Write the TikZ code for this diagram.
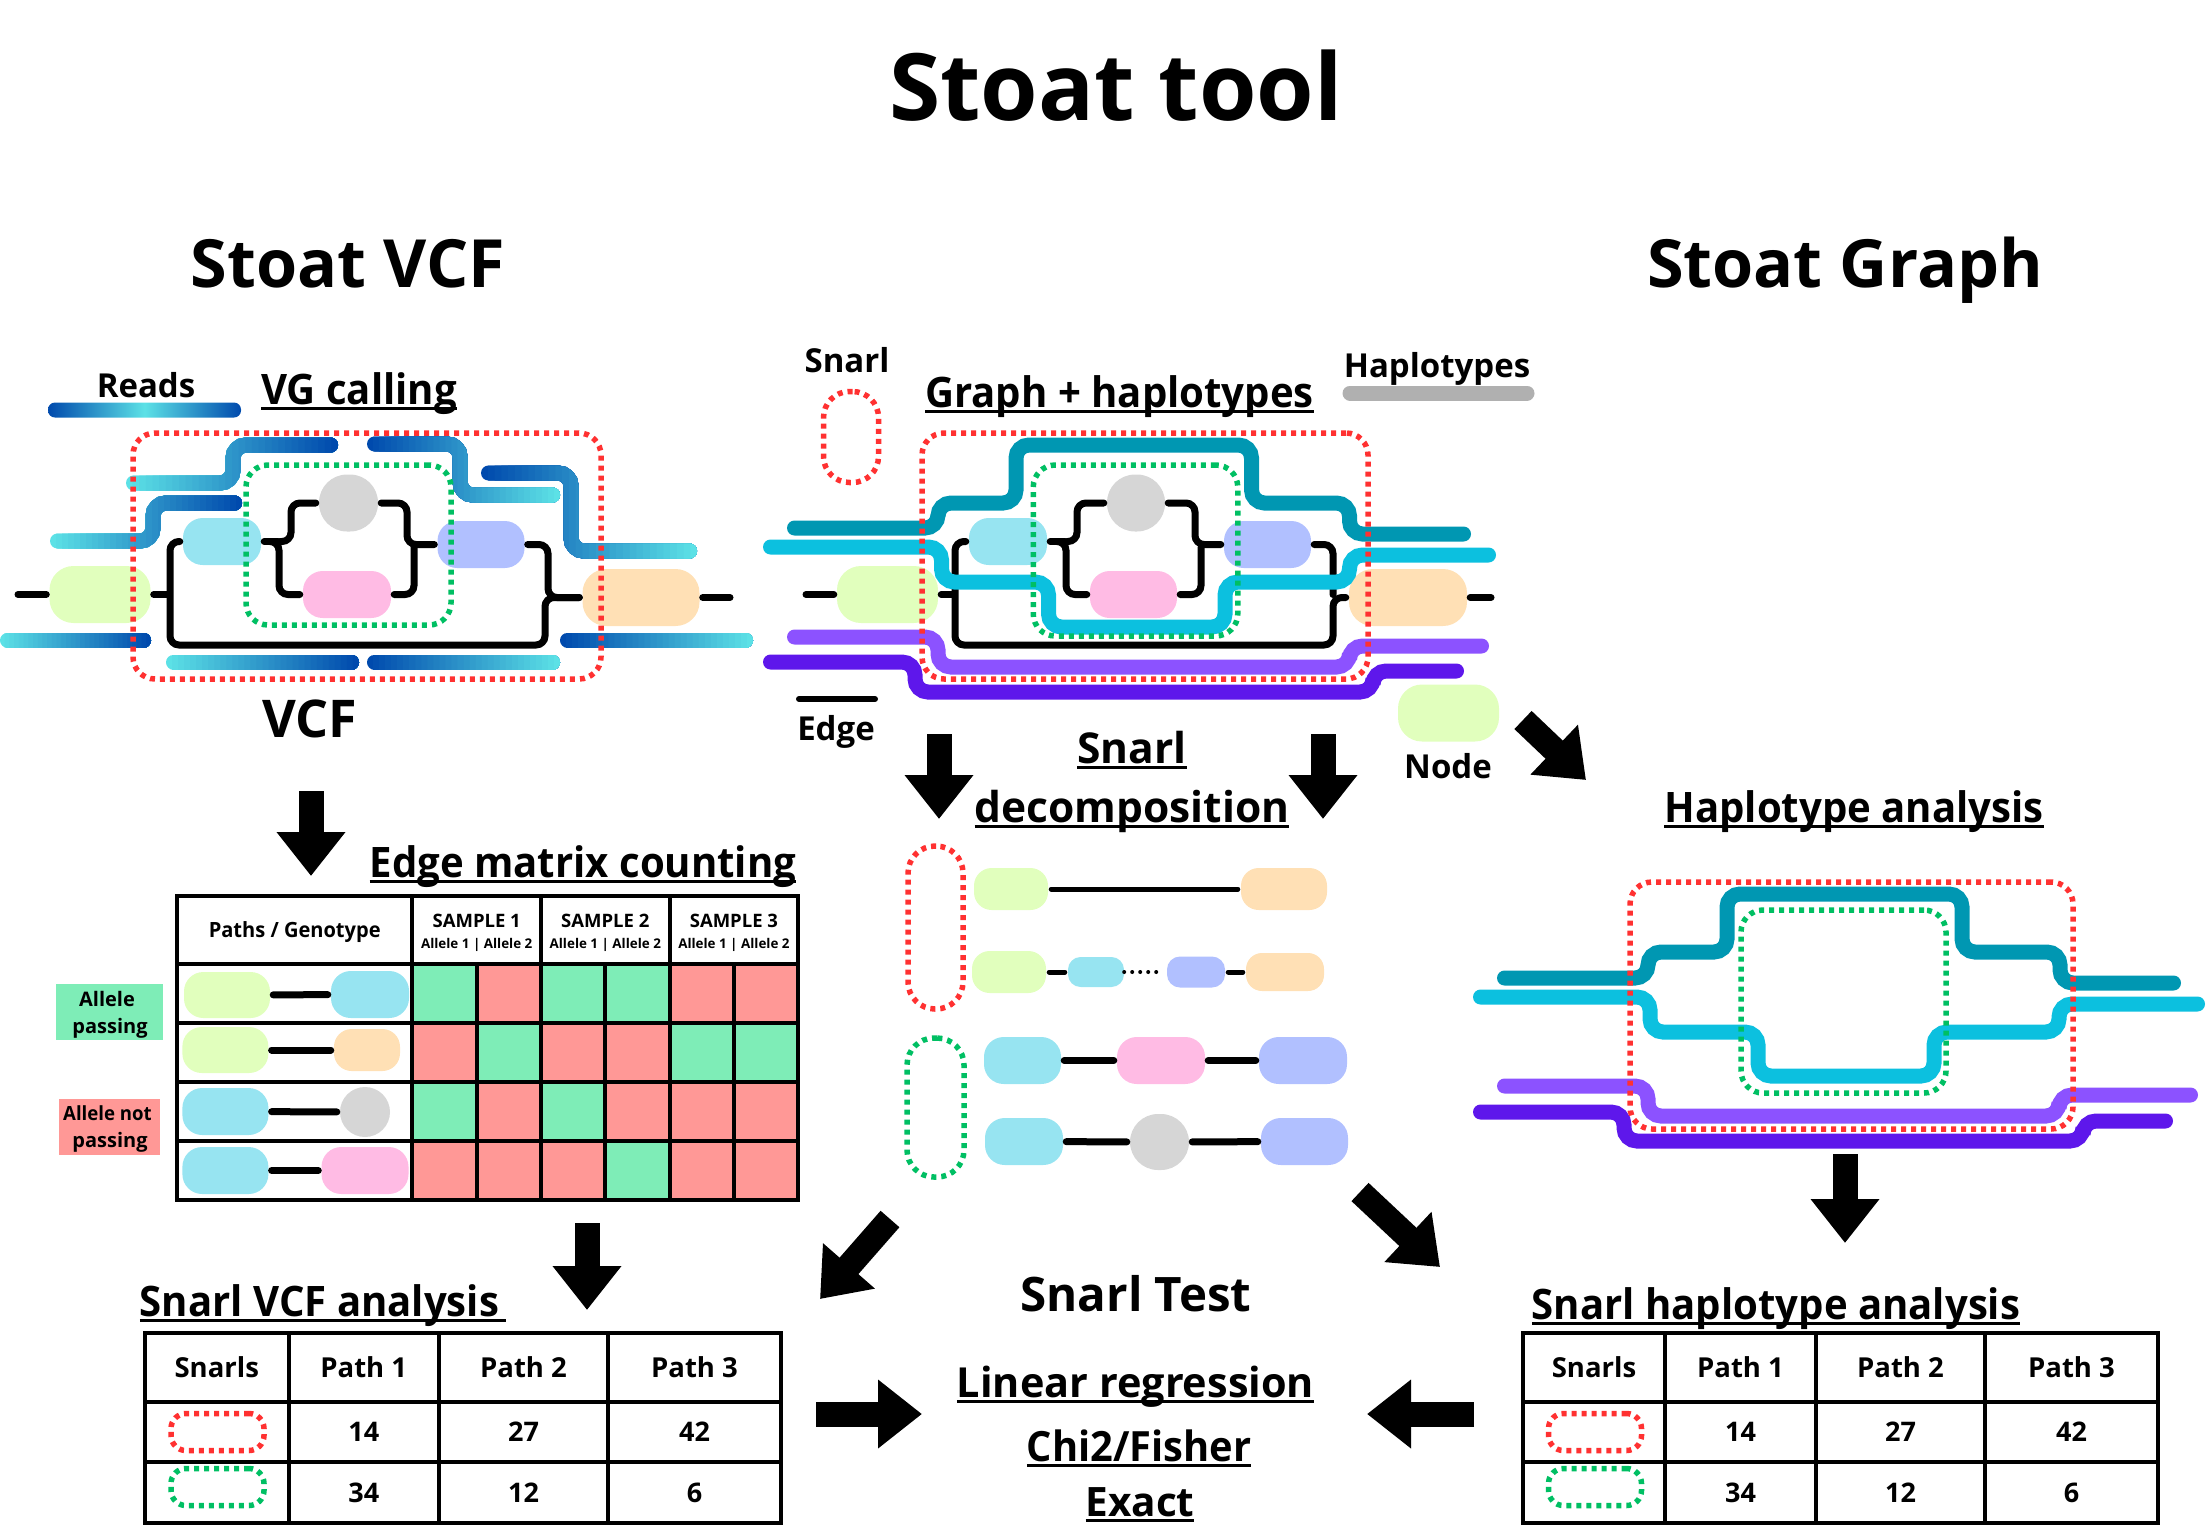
\documentclass[tikz,border=0pt]{standalone}
\usepackage{fontspec}
\setmainfont{Open Sans}
\newfontfamily\slimfont{Open Sans}[FakeStretch=0.955]
\usetikzlibrary{arrows.meta}

\definecolor{nodegreen}{HTML}{E1FFBD}
\definecolor{nodeblue}{HTML}{97E4F1}
\definecolor{nodegray}{HTML}{D6D6D6}
\definecolor{nodepink}{HTML}{FFBBE4}
\definecolor{nodeperi}{HTML}{B1C0FF}
\definecolor{nodeorange}{HTML}{FFE0B5}
\definecolor{snarlred}{HTML}{FF3131}
\definecolor{snarlgreen}{HTML}{00BF63}
\definecolor{readdark}{HTML}{004AAD}
\definecolor{readlight}{HTML}{5CE1E6}
\definecolor{hapteal}{HTML}{0097B2}
\definecolor{hapcyan}{HTML}{0CC0DF}
\definecolor{hapviolet}{HTML}{8C52FF}
\definecolor{hapdeep}{HTML}{5E17EB}
\definecolor{passgreen}{HTML}{7EEDB7}
\definecolor{failred}{HTML}{FF9896}

\tikzset{
  x=1pt,y=-1pt,
  sized/.style={font=\bfseries\fontsize{#1}{#1}\selectfont},
  label/.style={sized=#1,anchor=base,inner sep=0pt},
  slimlabel/.style={font=\slimfont\bfseries\fontsize{#1}{#1}\selectfont,anchor=base,inner sep=0pt},
  pill/.style 2 args={shape=rectangle,minimum width=#1pt,minimum height=#2pt,
    inner sep=0pt,rounded corners={0.42*#2pt}},
  edgeline/.style={draw=black,line width=7pt,line cap=round,rounded corners=9pt,
    shorten <=3pt,shorten >=3pt},
  thinedge/.style={edgeline,line width=5pt},
  snarldots/.style={line width=5.5pt,dash pattern=on 5pt off 5pt},
  redsnarl/.style 2 args={shape=rectangle,draw=snarlred,snarldots,inner sep=0pt,
    minimum width=#1pt,minimum height=#2pt,rounded corners=22pt},
  greensnarl/.style 2 args={redsnarl={#1}{#2},draw=snarlgreen},
  minired/.style={redsnarl={93}{37},rounded corners=15pt},
  minigreen/.style={greensnarl={93}{37},rounded corners=15pt},
  readline/.style={line width=15pt,line cap=round,rounded corners=13pt},
  hapline/.style={line width=15pt,line cap=round,rounded corners=13pt},
  bigarrow/.style={draw=black,line width=25pt,-{Triangle[width=66pt,length=44pt]}},
  cell/.style 2 args={shape=rectangle,draw=black,line width=4pt,inner sep=0pt,
    minimum width=#1pt,minimum height=#2pt,align=center},
  passcell/.style={cell={64.3}{59},fill=passgreen},
  failcell/.style={cell={64.3}{59},fill=failred},
}

% horizontal colour run along a thick line
\newcommand{\gradread}[5]{%
  \foreach \st in {0,...,31}{%
    \pgfmathsetmacro{\clipx}{#1+\st*(#2-#1)/32}%
    \pgfmathsetmacro{\mixp}{100-\st*100/31}%
    \begin{scope}
      \clip (\clipx,0) rectangle (2207,1537);
      \draw[readline,color=#3!\mixp!#4] #5;
    \end{scope}}}
\newcommand{\ul}[1]{\setbox0=\hbox{#1}\copy0\llap{\rule[-6pt]{\wd0}{3.5pt}}}

\begin{document}
\begin{tikzpicture}
  \useasboundingbox (0,0) rectangle (2207,1537);

  % titles
  \node[label=93] (title) at (1116,120) {Stoat tool};
  \node[label=66.5] (vcfhead) at (348,287) {Stoat VCF};
  \node[label=66.5] (graphhead) at (1845,287) {Stoat Graph};

  % VCF panel
  \node[label=33] (readstxt) at (146,397) {Reads};
  \node[slimlabel=42] (vgtxt) at (359,404) {\ul{VG calling}};
  \node[label=52] (vcftxt) at (310,737) {VCF};
  \node[pill={101}{57},fill=nodegreen] (vgreen) at (100,594.5) {};
  \node[pill={78}{47},fill=nodeblue] (vblue) at (222,541.5) {};
  \node[pill={59}{57},fill=nodegray,rounded corners=28pt] (vgray) at (348.5,503) {};
  \node[pill={88}{47},fill=nodepink] (vpink) at (347,594.5) {};
  \node[pill={87}{47},fill=nodeperi] (vperi) at (481,544.5) {};
  \node[pill={117}{57},fill=nodeorange] (vorange) at (641,597.5) {};
  \coordinate (vin) at (15,594.5);
  \coordinate (vout) at (733,597.5);
  \draw[edgeline] (vin) -- (vgreen.west);
  \draw[edgeline] (vgreen.east) -- (170,594.5);
  \draw[edgeline] (vblue.west) -| (170,645) -| (545,597.5) -- (vorange.west);
  \draw[edgeline] (vblue.east) -- (281,541.5);
  \draw[edgeline] (283,541.5) -| (291,503) -- (vgray.west);
  \draw[edgeline] (276,541.5) -| (279,594.5) -- (vpink.west);
  \draw[edgeline] (vgray.east) -| (407,544.5) -- (vperi.west);
  \draw[edgeline] (vpink.east) -| (414,544.5);
  \draw[edgeline] (vperi.east) -| (548,597.5) -- (vorange.west);
  \draw[edgeline] (vorange.east) -- (vout);
  \shade[left color=readdark,right color=readdark,middle color=readlight,rounded corners=7pt] (48,402.5) rectangle (241,417.5);
  \gradread{126}{338}{readlight}{readdark}{(133.5,483) -| (233,445) -- (330.5,445)}
  \gradread{50}{242}{readlight}{readdark}{(57.5,541) -| (153,503) -- (234.5,503)}
  \gradread{367}{560}{readdark}{readlight}{(374.5,444) -| (460,495) -- (552.5,495)}
  \gradread{481}{697}{readdark}{readlight}{(488.5,473) -| (571,551) -- (689.5,551)}
  \gradread{0}{151}{readlight}{readdark}{(7.5,640) -- (143.5,640)}
  \gradread{560}{753}{readdark}{readlight}{(567.5,640) -- (745.5,640)}
  \gradread{166}{359}{readlight}{readdark}{(173.5,662) -- (351.5,662)}
  \gradread{367}{560}{readdark}{readlight}{(374.5,662) -- (552.5,662)}
  \node[redsnarl={468}{246}] (vred) at (367,556) {};
  \node[greensnarl={205}{160}] (vgrn) at (348.5,545) {};

  % graph panel
  \node[label=33] (snarltxt) at (847,372) {Snarl};
  \node[label=33] (haptxt) at (1437,377) {Haplotypes};
  \node[slimlabel=42] (graphtxt) at (1119.5,407) {\ul{Graph + haplotypes}};
  \node[redsnarl={55}{91},rounded corners=26pt] (legred) at (851,437) {};
  \coordinate (hapa) at (1350,393);
  \coordinate (hapb) at (1527,393);
  \draw[hapline,color=black!31] (hapa) -- (hapb);
  \coordinate (edgea) at (799,699);
  \coordinate (edgeb) at (875,699);
  \draw[edgeline,line width=6pt,shorten <=0pt,shorten >=0pt] (edgea) -- (edgeb);
  \node[label=33] (edgetxt) at (836,740) {Edge};
  \node[pill={101}{57},fill=nodegreen] (legnode) at (1448.5,713) {};
  \node[label=33] (nodetxt) at (1448,778) {Node};

  \node[pill={101}{57},fill=nodegreen] (ggreen) at (887.5,594.5) {};
  \node[pill={78}{47},fill=nodeblue] (gblue) at (1008,541.5) {};
  \node[pill={58}{57},fill=nodegray,rounded corners=28pt] (ggray) at (1136,503) {};
  \node[pill={87}{47},fill=nodepink] (gpink) at (1133.5,594.5) {};
  \node[pill={87}{47},fill=nodeperi] (gperi) at (1267.5,544.5) {};
  \node[pill={118}{57},fill=nodeorange] (gorange) at (1408,597.5) {};
  \coordinate (gin) at (803,594.5);
  \coordinate (gout) at (1494,597.5);
  \draw[edgeline] (gin) -- (ggreen.west);
  \draw[edgeline] (ggreen.east) -- (955,594.5);
  \draw[edgeline] (gblue.west) -| (955,645) -| (1333,597.5) -- (gorange.west);
  \draw[edgeline] (gblue.east) -- (1068,541.5);
  \draw[edgeline] (1070,541.5) -| (1077,503) -- (ggray.west);
  \draw[edgeline] (1063,541.5) -| (1066,594.5) -- (gpink.west);
  \draw[edgeline] (ggray.east) -| (1195,544.5) -- (gperi.west);
  \draw[edgeline] (gpink.east) -| (1201,544.5);
  \draw[edgeline] (gperi.east) -| (1333,597.5);
  \draw[edgeline] (gorange.east) -- (gout);
  \draw[hapline,color=hapteal] (794.5,528) -| (938,503) -| (1016,445) -| (1251.5,503) -| (1349.5,534) -- (1463.5,534);
  \draw[hapline,color=hapcyan] (770.5,547) -| (941.5,582) -| (1048.5,627) -| (1225,582) -| (1349.5,555) -- (1488.5,555);
  \draw[hapline,color=hapviolet] (794.5,637) -| (938,667) -| (1349.5,646) -- (1481.5,646);
  \draw[hapline,color=hapdeep] (770.5,662) -| (915,692) -| (1373,671) -- (1456.5,671);
  \node[redsnarl={446}{246}] (gred) at (1145,556) {};
  \node[greensnarl={204.5}{171}] (ggrn) at (1135.5,550.5) {};

  % snarl decomposition
  \node[label=42.5] (decoa) at (1132,763) {\ul{Snarl}};
  \node[label=42.5] (decob) at (1132,822) {\ul{decomposition}};
  \node[redsnarl={55}{163},rounded corners=27pt] (dred) at (935.5,927.5) {};
  \node[greensnarl={57}{139},rounded corners=27pt] (dgrn) at (935.5,1107.5) {};
  \node[pill={74}{42},fill=nodegreen] (da) at (1011,889) {};
  \node[pill={86}{42},fill=nodeorange] (db) at (1284,889) {};
  \draw[thinedge] (da) -- (db);
  \node[pill={74}{42},fill=nodegreen] (ea) at (1009,972) {};
  \node[pill={56}{30},fill=nodeblue] (eb) at (1096,972) {};
  \node[pill={58}{31},fill=nodeperi] (ec) at (1196,972) {};
  \node[pill={78}{38},fill=nodeorange] (ed) at (1285,972) {};
  \draw[thinedge] (ea) -- (eb);
  \draw[line width=4pt,line cap=round,dash pattern=on 0pt off 8pt,shorten >=6pt] (eb) -- (ec);
  \draw[thinedge] (ec) -- (ed);
  \node[pill={77}{47},fill=nodeblue] (fa) at (1022.5,1060.5) {};
  \node[pill={88}{47},fill=nodepink] (fb) at (1161,1060.5) {};
  \node[pill={88}{47},fill=nodeperi] (fc) at (1303,1060.5) {};
  \draw[edgeline] (fa) -- (fb);
  \draw[edgeline] (fb) -- (fc);
  \node[pill={78}{47},fill=nodeblue] (ga) at (1024,1141.5) {};
  \node[pill={59}{56},fill=nodegray,rounded corners=28pt] (gb) at (1159.5,1142) {};
  \node[pill={87}{47},fill=nodeperi] (gc) at (1304.5,1141.5) {};
  \draw[edgeline] (ga) -- (gb);
  \draw[edgeline] (gb) -- (gc);

  % edge matrix
  \node[slimlabel=42] (matrixtxt) at (583,877) {\ul{Edge matrix counting}};
  \node[cell={235.4}{68}] (mhead) at (294.7,930) {};
  \node[cell={128.6}{68}] (sa) at (476.7,930) {};
  \node[cell={128.6}{68}] (sb) at (605.3,930) {};
  \node[cell={128.6}{68}] (sc) at (733.9,930) {};
  \node[slimlabel=21] (mheadtxt) at (294.7,937) {Paths / Genotype};
  \node[label=18.5] (satxt) at (476.7,927) {SAMPLE 1};
  \node[label=18.5] (sbtxt) at (605.3,927) {SAMPLE 2};
  \node[label=18.5] (sctxt) at (733.9,927) {SAMPLE 3};
  \node[label=13.4] (sasub) at (476.7,948) {Allele 1 | Allele 2};
  \node[label=13.4] (sbsub) at (605.3,948) {Allele 1 | Allele 2};
  \node[label=13.4] (scsub) at (733.9,948) {Allele 1 | Allele 2};
  \node[cell={235.4}{59}] (ra) at (294.7,993.5) {};
  \node[cell={235.4}{59}] (rb) at (294.7,1052.5) {};
  \node[cell={235.4}{59}] (rc) at (294.7,1111.5) {};
  \node[cell={235.4}{59}] (rd) at (294.7,1170.5) {};
  \node[passcell] (m11) at (444.6,993.5) {};
  \node[failcell] (m12) at (508.9,993.5) {};
  \node[passcell] (m13) at (573.2,993.5) {};
  \node[passcell] (m14) at (637.5,993.5) {};
  \node[failcell] (m15) at (701.8,993.5) {};
  \node[failcell] (m16) at (766.1,993.5) {};
  \node[failcell] (m21) at (444.6,1052.5) {};
  \node[passcell] (m22) at (508.9,1052.5) {};
  \node[failcell] (m23) at (573.2,1052.5) {};
  \node[failcell] (m24) at (637.5,1052.5) {};
  \node[passcell] (m25) at (701.8,1052.5) {};
  \node[passcell] (m26) at (766.1,1052.5) {};
  \node[passcell] (m31) at (444.6,1111.5) {};
  \node[failcell] (m32) at (508.9,1111.5) {};
  \node[passcell] (m33) at (573.2,1111.5) {};
  \node[failcell] (m34) at (637.5,1111.5) {};
  \node[failcell] (m35) at (701.8,1111.5) {};
  \node[failcell] (m36) at (766.1,1111.5) {};
  \node[failcell] (m41) at (444.6,1170.5) {};
  \node[failcell] (m42) at (508.9,1170.5) {};
  \node[failcell] (m43) at (573.2,1170.5) {};
  \node[passcell] (m44) at (637.5,1170.5) {};
  \node[failcell] (m45) at (701.8,1170.5) {};
  \node[failcell] (m46) at (766.1,1170.5) {};
  \node[pill={86}{46},fill=nodegreen] (pa) at (227,995) {};
  \node[pill={78}{47},fill=nodeblue] (pb) at (370,994.5) {};
  \draw[edgeline] (pa) -- (pb);
  \node[pill={86}{46},fill=nodegreen] (qa) at (225.4,1050) {};
  \node[pill={66}{42},fill=nodeorange] (qb) at (367,1050) {};
  \draw[edgeline] (qa) -- (qb);
  \node[pill={86}{47},fill=nodeblue] (ua) at (225.4,1111.5) {};
  \node[pill={50}{50},fill=nodegray,rounded corners=25pt] (ub) at (365,1112) {};
  \draw[edgeline] (ua) -- (ub);
  \node[pill={86}{47},fill=nodeblue] (va) at (225.4,1170.5) {};
  \node[pill={87}{47},fill=nodepink] (vb) at (365,1170.5) {};
  \draw[edgeline] (va) -- (vb);
  \node[shape=rectangle,fill=passgreen,minimum width=107pt,minimum height=56pt,inner sep=0pt] (passkey) at (109.5,1012) {};
  \node[label=20] (passa) at (107,1006) {Allele};
  \node[label=20] (passb) at (110,1033) {passing};
  \node[shape=rectangle,fill=failred,minimum width=101pt,minimum height=56pt,inner sep=0pt] (failkey) at (109.5,1127) {};
  \node[slimlabel=19.5] (faila) at (107.5,1120) {Allele not};
  \node[label=20] (failb) at (110,1147) {passing};

  % haplotype analysis
  \node[slimlabel=42] (haplotxt) at (1854,822) {\ul{Haplotype analysis}};
  \draw[hapline,color=hapteal] (1504.5,978) -| (1648,952) -| (1727,894) -| (1962,952) -| (2060,983) -- (2173.5,983);
  \draw[hapline,color=hapcyan] (1480.5,997) -| (1650,1032) -| (1758,1076) -| (1934,1032) -| (2059,1004) -- (2197.5,1004);
  \draw[hapline,color=hapviolet] (1504.5,1086) -| (1648,1116) -| (2059,1095) -- (2190.5,1095);
  \draw[hapline,color=hapdeep] (1480.5,1112) -| (1624,1141) -| (2083,1121) -- (2165.5,1121);
  \node[redsnarl={443}{247}] (hred) at (1851.5,1005.5) {};
  \node[greensnarl={205}{183}] (hgrn) at (1843.5,1001.5) {};

  % snarl tables
  \node[slimlabel=42] (svcftxt) at (323,1316) {\ul{Snarl VCF analysis\,}};
  \node[slimlabel=42] (shaptxt) at (1776,1319) {\ul{Snarl haplotype analysis}};
  \node[cell={143.5}{69},sized=27.5] (la) at (216.75,1367.5) {Snarls};
  \node[cell={150.5}{69},sized=27.5] (lb) at (363.75,1367.5) {Path 1};
  \node[cell={169}{69},sized=27.5] (lc) at (523.5,1367.5) {Path 2};
  \node[cell={173}{69},sized=27.5] (ld) at (694.5,1367.5) {Path 3};
  \node[cell={143.5}{60}] (le) at (216.75,1432) {};
  \node[cell={150.5}{60},sized=27] (lf) at (363.75,1432) {14};
  \node[cell={169}{60},sized=27] (lg) at (523.5,1432) {27};
  \node[cell={173}{60},sized=27] (lh) at (694.5,1432) {42};
  \node[cell={143.5}{61}] (li) at (216.75,1492.5) {};
  \node[cell={150.5}{61},sized=27] (lj) at (363.75,1492.5) {34};
  \node[cell={169}{61},sized=27] (lk) at (523.5,1492.5) {12};
  \node[cell={173}{61},sized=27] (ll) at (694.5,1492.5) {6};
  \node[minired] (lred) at (217.5,1432) {};
  \node[minigreen] (lgrn) at (217.5,1487) {};
  \node[cell={142}{69},sized=27.5] (ta) at (1594,1367.5) {Snarls};
  \node[cell={151}{69},sized=27.5] (tb) at (1740.5,1367.5) {Path 1};
  \node[cell={169}{69},sized=27.5] (tc) at (1900.5,1367.5) {Path 2};
  \node[cell={173}{69},sized=27.5] (td) at (2071.5,1367.5) {Path 3};
  \node[cell={142}{60}] (te) at (1594,1432) {};
  \node[cell={151}{60},sized=27] (tf) at (1740.5,1432) {14};
  \node[cell={169}{60},sized=27] (tg) at (1900.5,1432) {27};
  \node[cell={173}{60},sized=27] (th) at (2071.5,1432) {42};
  \node[cell={142}{61}] (ti) at (1594,1492.5) {};
  \node[cell={151}{61},sized=27] (tj) at (1740.5,1492.5) {34};
  \node[cell={169}{61},sized=27] (tk) at (1900.5,1492.5) {12};
  \node[cell={173}{61},sized=27] (tl) at (2071.5,1492.5) {6};
  \node[minired] (tred) at (1595,1432) {};
  \node[minigreen] (tgrn) at (1595,1487) {};

  % snarl test
  \node[label=47.5] (testtxt) at (1136,1311) {Snarl Test};
  \node[label=41.4] (lintxt) at (1135.5,1397) {\ul{Linear regression}};
  \node[slimlabel=41.7] (chitxt) at (1139,1461) {\ul{Chi2/Fisher}};
  \node[label=40.5] (exacttxt) at (1140,1516) {\ul{Exact}};

  % arrows
  \coordinate (aa) at (311,791);
  \coordinate (ab) at (311,876);
  \draw[bigarrow] (aa) -- (ab);
  \coordinate (ba) at (939,734);
  \coordinate (bb) at (939,819);
  \draw[bigarrow] (ba) -- (bb);
  \coordinate (ca) at (1323,734);
  \coordinate (cb) at (1323,819);
  \draw[bigarrow] (ca) -- (cb);
  \coordinate (da1) at (1523,720);
  \coordinate (da2) at (1586,780);
  \draw[bigarrow] (da1) -- (da2);
  \coordinate (ea1) at (1845,1154);
  \coordinate (ea2) at (1845,1243);
  \draw[bigarrow] (ea1) -- (ea2);
  \coordinate (fa1) at (587,1223);
  \coordinate (fa2) at (587,1310);
  \draw[bigarrow] (fa1) -- (fa2);
  \coordinate (ga1) at (890,1219);
  \coordinate (ga2) at (820,1299);
  \draw[bigarrow] (ga1) -- (ga2);
  \coordinate (ha1) at (1360,1192);
  \coordinate (ha2) at (1440,1267);
  \draw[bigarrow] (ha1) -- (ha2);
  \coordinate (ia1) at (816,1414);
  \coordinate (ia2) at (922,1414);
  \draw[bigarrow] (ia1) -- (ia2);
  \coordinate (ja1) at (1474,1414);
  \coordinate (ja2) at (1367,1414);
  \draw[bigarrow] (ja1) -- (ja2);
\end{tikzpicture}
\end{document}
